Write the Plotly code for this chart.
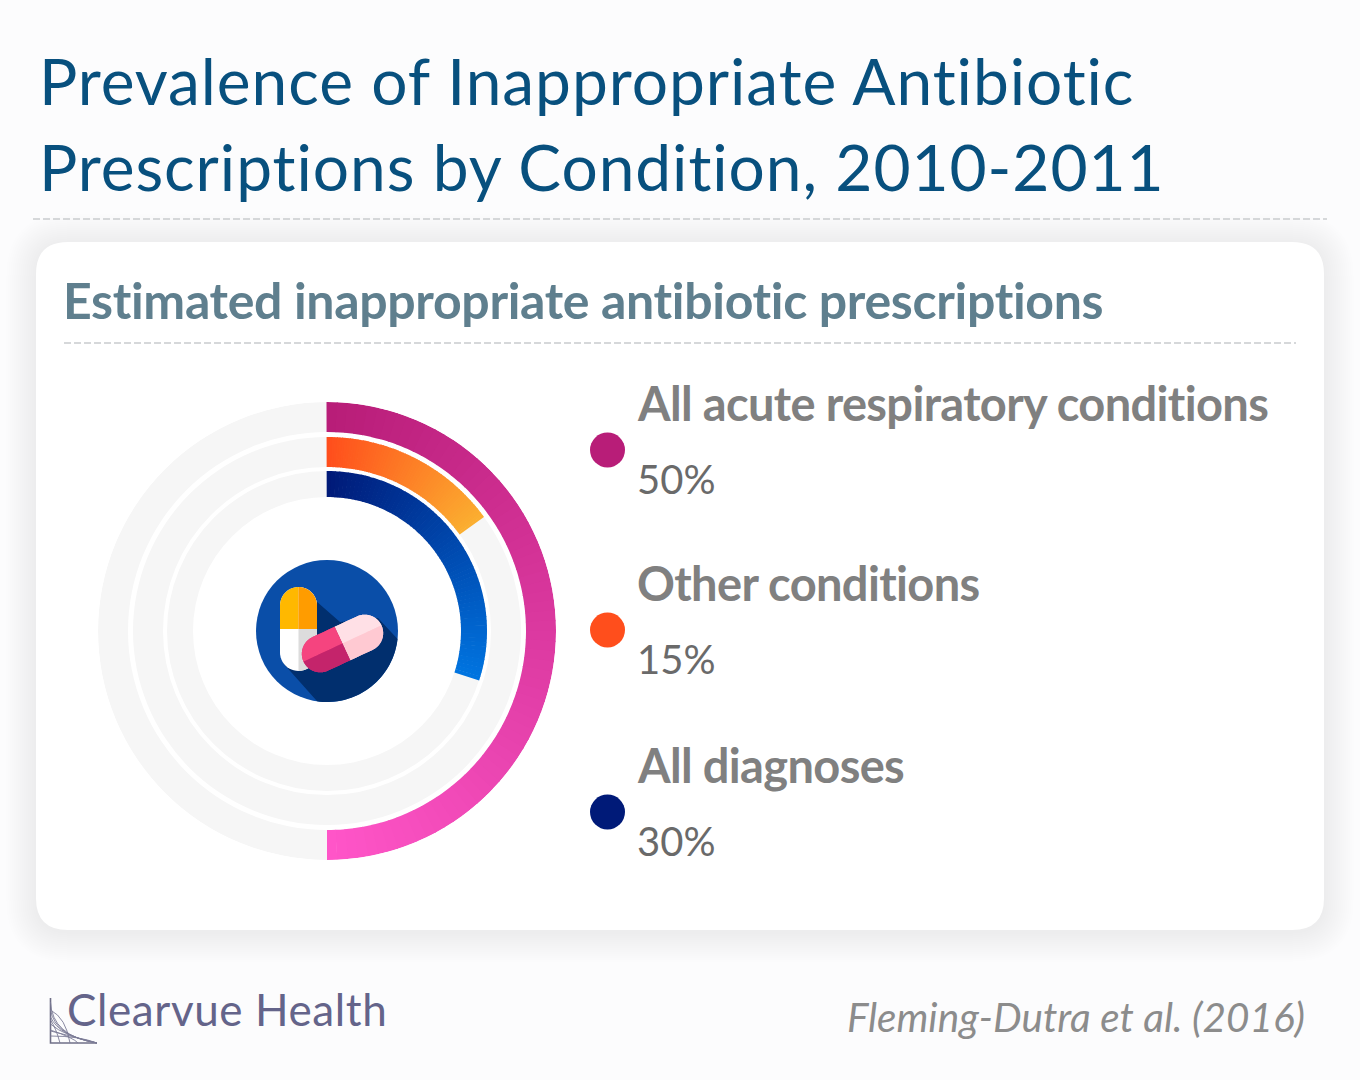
#!/usr/bin/env python3
# Radial bars: inappropriate antibiotic prescriptions by condition
import json
import numpy as np
import plotly.graph_objects as go

# data
categories = ['All acute respiratory conditions', 'Other conditions', 'All diagnoses']
values = [50, 15, 30]
value_labels = ['50%', '15%', '30%']
start_colors = ['#b81d78', '#ff4e1c', '#001a78']
end_colors = ['#ff55c8', '#fbae30', '#0074e0']
dot_colors = ['#b81d78', '#ff4e1c', '#001a78']
ring_inner = [199, 164, 134]
ring_outer = [229, 194, 160]
legend_name_y = [403, 583, 765]
legend_value_y = [479, 659, 841]
legend_dot_y = [450, 630, 812]

title_lines = ['Prevalence of Inappropriate Antibiotic', 'Prescriptions by Condition, 2010-2011']
subtitle = 'Estimated inappropriate antibiotic prescriptions'
brand = 'Clearvue Health'
citation = 'Fleming-Dutra et al. (2016)'

BG = '#fcfcfd'
CENTER = (327, 631)
STEPS = 70


def mix(c1, c2, t):
    a = [int(c1[i:i + 2], 16) for i in (1, 3, 5)]
    b = [int(c2[i:i + 2], 16) for i in (1, 3, 5)]
    return 'rgb(%d,%d,%d)' % tuple(round(x + (y - x) * t) for x, y in zip(a, b))


def rounded_rect(x0, y0, x1, y1, r):
    return (f'M{x0 + r},{y0} L{x1 - r},{y0} Q{x1},{y0} {x1},{y0 + r} L{x1},{y1 - r} Q{x1},{y1} {x1 - r},{y1} '
            f'L{x0 + r},{y1} Q{x0},{y1} {x0},{y1 - r} L{x0},{y0 + r} Q{x0},{y0} {x0 + r},{y0} Z')


def poly(points):
    return 'M' + ' L'.join(f'{x:.2f},{y:.2f}' for x, y in points) + ' Z'


def capsule(cx, cy, half_len, half_w, angle, part='all'):
    """Capsule outline around (cx, cy); part picks a half or quarter of it. angle in degrees"""
    a = np.radians(angle)
    ux, uy = np.cos(a), np.sin(a)
    vx, vy = -uy, ux
    straight = half_len - half_w
    pts = []
    for t in np.linspace(-90, 90, 25):
        r = np.radians(t)
        pts.append((straight + half_w * np.cos(r), half_w * np.sin(r)))
    for t in np.linspace(90, 270, 25):
        r = np.radians(t)
        pts.append((-straight + half_w * np.cos(r), half_w * np.sin(r)))
    pts = np.array(pts)
    if part != 'all':
        # clip the outline to one side of the long axis and/or the short axis
        u_sign, v_sign = part
        keep = []
        n = len(pts)
        for i in range(n):
            p, q = pts[i], pts[(i + 1) % n]
            for s in np.linspace(0, 1, 8, endpoint=False):
                keep.append(p + (q - p) * s)
        keep = np.array(keep)
        if u_sign:
            keep[:, 0] = np.maximum(keep[:, 0] * u_sign, 0) * u_sign
        if v_sign:
            keep[:, 1] = np.maximum(keep[:, 1] * v_sign, 0) * v_sign
        pts = keep
    return poly([(cx + x * ux + y * vx, cy + x * uy + y * vy) for x, y in pts])


fig = go.Figure()

# grey tracks and the gradient arcs, one thin bar per colour step
for inner, outer in zip(ring_inner, ring_outer):
    fig.add_trace(go.Barpolar(theta=[180], width=[360], base=[inner], r=[outer - inner],
                              marker=dict(color='#f6f6f6', line_width=0), hoverinfo='skip', showlegend=False))

for name, val, inner, outer, c0, c1 in zip(categories, values, ring_inner, ring_outer, start_colors, end_colors):
    span = val * 3.6
    step = span / STEPS
    thetas = [step * (i + 0.5) for i in range(STEPS)]
    widths = [step + (0.25 if i < STEPS - 1 else 0) for i in range(STEPS)]
    fig.add_trace(go.Barpolar(theta=thetas, width=widths, base=[inner] * STEPS, r=[outer - inner] * STEPS,
                              marker=dict(color=[mix(c0, c1, i / (STEPS - 1)) for i in range(STEPS)], line_width=0),
                              name=name, showlegend=False))

# legend dots on a hidden pixel axis
fig.add_trace(go.Scatter(x=[607.5] * 3, y=legend_dot_y, mode='markers',
                         marker=dict(color=dot_colors, size=35, symbol='circle', line_width=0),
                         hoverinfo='skip', showlegend=False))

shapes = []
# soft card shadow
for grow in range(30, 0, -2):
    shapes.append(dict(type='path', path=rounded_rect(36 - grow, 242 - grow + 2, 1324 + grow, 930 + grow + 2, 32 + grow),
                       fillcolor='rgba(60,60,70,0.0048)', line_width=0, layer='below'))
shapes.append(dict(type='path', path=rounded_rect(36, 242, 1324, 930, 32), fillcolor='#ffffff', line_width=0, layer='below'))
# dashed rules
rule = dict(color='#c9cbce', width=1.4, dash='7px,3px')
shapes.append(dict(type='line', x0=33, x1=1327, y0=219, y1=219, line=rule))
shapes.append(dict(type='line', x0=64, x1=1296, y0=343, y1=343, line=rule))

# centre icon
cx, cy = CENTER
shapes.append(dict(type='circle', x0=cx - 71, x1=cx + 71, y0=cy - 71, y1=cy + 71, fillcolor='#0a4ea8', line_width=0))
arc = [(cx + 71 * np.cos(np.radians(t)), cy + 71 * np.sin(np.radians(t))) for t in np.linspace(6.5, 98, 40)]
shapes.append(dict(type='path', path=poly([(316, 601), (340, 622), (378, 618)] + arc + [(283, 663)]),
                   fillcolor='#012f6e', line_width=0))
shapes.append(dict(type='path', path=capsule(298.5, 629, 42, 18.5, 90), fillcolor='#ffffff', line_width=0))
shapes.append(dict(type='path', path=capsule(298.5, 629, 42, 18.5, 90, (0, -1)), fillcolor='#dcdcdc', line_width=0))
shapes.append(dict(type='path', path=capsule(298.5, 629, 42, 18.5, 90, (-1, 1)), fillcolor='#ffb800', line_width=0))
shapes.append(dict(type='path', path=capsule(298.5, 629, 42, 18.5, 90, (-1, -1)), fillcolor='#ff9c00', line_width=0))
pill = (342.5, 643.5, 43, 18.5, -25)
shapes.append(dict(type='path', path=capsule(*pill, (1, 0)), fillcolor='#ffd3da', line_width=0))
shapes.append(dict(type='path', path=capsule(*pill, (-1, 0)), fillcolor='#dc3276', line_width=0))
shapes.append(dict(type='path', path=capsule(*pill, (1, -1)), fillcolor='#ffe0e6', line_width=0))
shapes.append(dict(type='path', path=capsule(*pill, (1, 1)), fillcolor='#ffc9d2', line_width=0))
shapes.append(dict(type='path', path=capsule(*pill, (-1, -1)), fillcolor='#f5447f', line_width=0))
shapes.append(dict(type='path', path=capsule(*pill, (-1, 1)), fillcolor='#c4246b', line_width=0))

# logo mark
logo_line = dict(color='#7c7c96', width=0.9)
shapes.append(dict(type='path', path='M50.5,998 L50.5,1043 L97,1043', line=dict(color='#6f6f88', width=1.6)))
for x_top, y_left in [(52, 1002), (55, 1010), (59, 1017), (64, 1024), (71, 1031), (79, 1036)]:
    shapes.append(dict(type='path', path=f'M50.5,{y_left} Q{x_top},1036 97,1043', line=logo_line))
for xb, yl in [(60, 1020), (70, 1010), (78, 1030)]:
    shapes.append(dict(type='path', path=f'M{xb},1043 Q{xb - 4},{yl + 8} 50.5,{yl}', line=logo_line))

annotations = []
spacing = []


def add_text(x, y, text, size, color, anchor='left', weight=400, style='normal', letter=0):
    annotations.append(dict(x=x, y=y, xref='x', yref='y', text=text, showarrow=False, xanchor=anchor, yanchor='middle',
                            align=anchor, borderpad=0,
                            font=dict(family='Lato', size=size, color=color, weight=weight, style=style)))
    spacing.append(letter)


add_text(37.5, 80, title_lines[0], 64, '#08507e', letter=0.95)
add_text(37.5, 166, title_lines[1], 64, '#08507e', letter=0.95)
add_text(62, 300, subtitle, 50, '#5f7f8e', weight=700, letter=-0.33)
for name, label, yn, yv in zip(categories, value_labels, legend_name_y, legend_value_y):
    add_text(636, yn, name, 47, '#808080', weight=700, letter=-0.65)
    add_text(636, yv, label, 40, '#6a6a6a')
add_text(66, 1009, brand, 44, '#64648a', letter=0.6)
add_text(1306, 1016, citation, 40.5, '#8c8c8c', anchor='right', style='italic')

R = ring_outer[0]
fig.update_layout(
    width=1360,
    height=1080,
    margin=dict(l=0, r=0, t=0, b=0),
    paper_bgcolor=BG,
    plot_bgcolor='rgba(0,0,0,0)',
    barmode='overlay',
    showlegend=False,
    xaxis=dict(range=[0, 1360], visible=False, fixedrange=True, domain=[0, 1]),
    yaxis=dict(range=[1080, 0], visible=False, fixedrange=True, domain=[0, 1]),
    polar=dict(
        domain=dict(x=[(cx - R) / 1360, (cx + R) / 1360], y=[1 - (cy + R) / 1080, 1 - (cy - R) / 1080]),
        bgcolor='rgba(0,0,0,0)',
        barmode='overlay',
        radialaxis=dict(range=[0, R], visible=False),
        angularaxis=dict(rotation=90, direction='clockwise', visible=False),
    ),
    shapes=shapes,
    annotations=annotations,
)

# plotly has no letter spacing option, so it is set on the rendered text
post = (
    "document.body.style.margin='0';document.body.style.background='%s';"
    "var sp=%s;document.querySelectorAll('.annotation-text').forEach(function(t,i){"
    "if(sp[i]){t.style.letterSpacing=sp[i]+'px';}});" % (BG, json.dumps(spacing))
)
fig.write_html('out.html', post_script=post, config={'displayModeBar': False})
